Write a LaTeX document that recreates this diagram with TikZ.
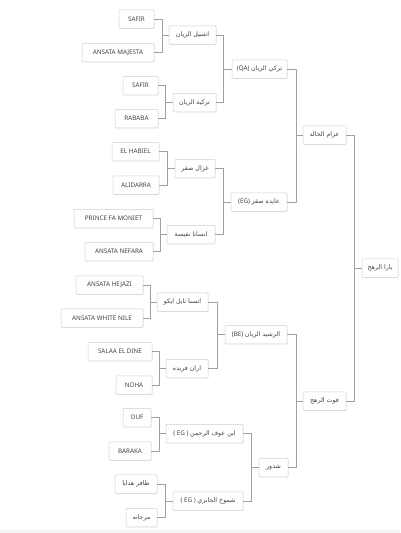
\documentclass[tikz,border=0pt]{standalone}
\usepackage{fontspec}
\setmainfont{Noto Sans}
\newfontfamily\arabicfont[Script=Arabic]{DejaVu Sans}
\TeXXeTstate=1
\usetikzlibrary{shadows}
\definecolor{txt}{HTML}{444444}
\definecolor{linec}{HTML}{A0A0A0}
\definecolor{boxc}{HTML}{CFCFCF}
\newcommand\ar[1]{{\arabicfont\beginR #1\endR}}
\newcommand\pairjoin[4]{%
  \coordinate (#3x) at (#4,0);
  \draw[conn] (#1.east) -| (#3x |- #3.west) -- (#3.west);
  \draw[conn] (#2.east) -| (#3x |- #3.west);}
\begin{document}
\begin{tikzpicture}[x=1pt,y=-1pt,
  box/.style={draw=boxc, fill=white, rounded corners=1pt, line width=0.5pt,
    minimum height=18.5pt, inner sep=0pt, font=\fontsize{6.3}{7}\selectfont, text=txt,
    drop shadow={shadow xshift=0.6pt, shadow yshift=-0.8pt, opacity=0.12}},
  conn/.style={draw=linec, line width=0.6pt}]
\useasboundingbox (0,0) rectangle (400,533);
\fill[white] (0,0) rectangle (400,533);
\fill[gray!8] (0,530) rectangle (400,533);
% generation 4
\node[box, minimum width=35pt] (a1) at (136.5,19) {SAFIR};
\node[box, minimum width=72pt] (a2) at (118,52.5) {ANSATA MAJESTA};
\node[box, minimum width=35pt] (a3) at (140.5,85.5) {SAFIR};
\node[box, minimum width=43pt] (a4) at (136.5,118.5) {RABABA};
\node[box, minimum width=47pt] (a5) at (135.5,151.5) {EL HABIEL};
\node[box, minimum width=46pt] (a6) at (136,185) {ALIDARRA};
\node[box, minimum width=79pt] (a7) at (113.5,218.5) {PRINCE FA MONIET};
\node[box, minimum width=68pt] (a8) at (119,251.5) {ANSATA NEFARA};
\node[box, minimum width=67pt] (a9) at (109.5,285) {ANSATA HEJAZI};
\node[box, minimum width=82pt] (a10) at (102,318) {ANSATA WHITE NILE};
\node[box, minimum width=64pt] (a11) at (120,351.5) {SALAA EL DINE};
\node[box, minimum width=36pt] (a12) at (134,385) {NOHA};
\node[box, minimum width=28pt] (a13) at (137,417.5) {OUF};
\node[box, minimum width=42pt] (a14) at (130,451) {BARAKA};
\node[box, minimum width=42pt] (a15) at (136,484) {\ar{ظافر هدايا}};
\node[box, minimum width=31pt] (a16) at (141.5,517.5) {\ar{مرجانه}};
% generation 3
\node[box, minimum width=47pt] (b1) at (192.5,35) {\ar{اشبيل الريان}};
\node[box, minimum width=43pt] (b2) at (194.5,102.5) {\ar{تركية الريان}};
\node[box, minimum width=40pt] (b3) at (195,168.5) {\ar{غزال صقر}};
\node[box, minimum width=48pt] (b4) at (191,234.5) {\ar{انسانا نفيسة}};
\node[box, minimum width=51pt] (b5) at (182.5,302) {\ar{انسنا نايل ايكو}};
\node[box, minimum width=42pt] (b6) at (187,368.5) {\ar{اران فريده}};
\node[box, minimum width=77pt] (b7) at (204.5,433.5) {( EG ) \ar{ابن عوف الرحمن}};
\node[box, minimum width=70pt] (b8) at (208,501) {( EG ) \ar{شموخ الجابري}};
% generation 2
\node[box, minimum width=55pt] (c1) at (259.5,69) {(QA) \ar{تركي الريان}};
\node[box, minimum width=56pt] (c2) at (259,202) {(EG) \ar{عايدة صقر}};
\node[box, minimum width=62pt] (c3) at (256,334.5) {(BE) \ar{الرشيد الريان}};
\node[box, minimum width=29pt] (c4) at (273.5,467.5) {\ar{شذور}};
% generation 1
\node[box, minimum width=43pt] (d1) at (324.5,135) {\ar{عزام الخالد}};
\node[box, minimum width=43pt] (d2) at (324.5,401) {\ar{فوت الرهج}};
% generation 0
\node[box, minimum width=36pt] (e1) at (380,268) {\ar{يارا الرهج}};
% connectors
\pairjoin{a1}{a2}{b1}{162}
\pairjoin{a3}{a4}{b2}{165}
\pairjoin{a5}{a6}{b3}{167}
\pairjoin{a7}{a8}{b4}{160}
\pairjoin{a9}{a10}{b5}{150}
\pairjoin{a11}{a12}{b6}{159}
\pairjoin{a13}{a14}{b7}{159}
\pairjoin{a15}{a16}{b8}{165}
\pairjoin{b1}{b2}{c1}{223}
\pairjoin{b3}{b4}{c2}{223}
\pairjoin{b5}{b6}{c3}{217}
\pairjoin{b7}{b8}{c4}{251}
\pairjoin{c1}{c2}{d1}{296}
\pairjoin{c3}{c4}{d2}{296}
\pairjoin{d1}{d2}{e1}{354}
\end{tikzpicture}
\end{document}
